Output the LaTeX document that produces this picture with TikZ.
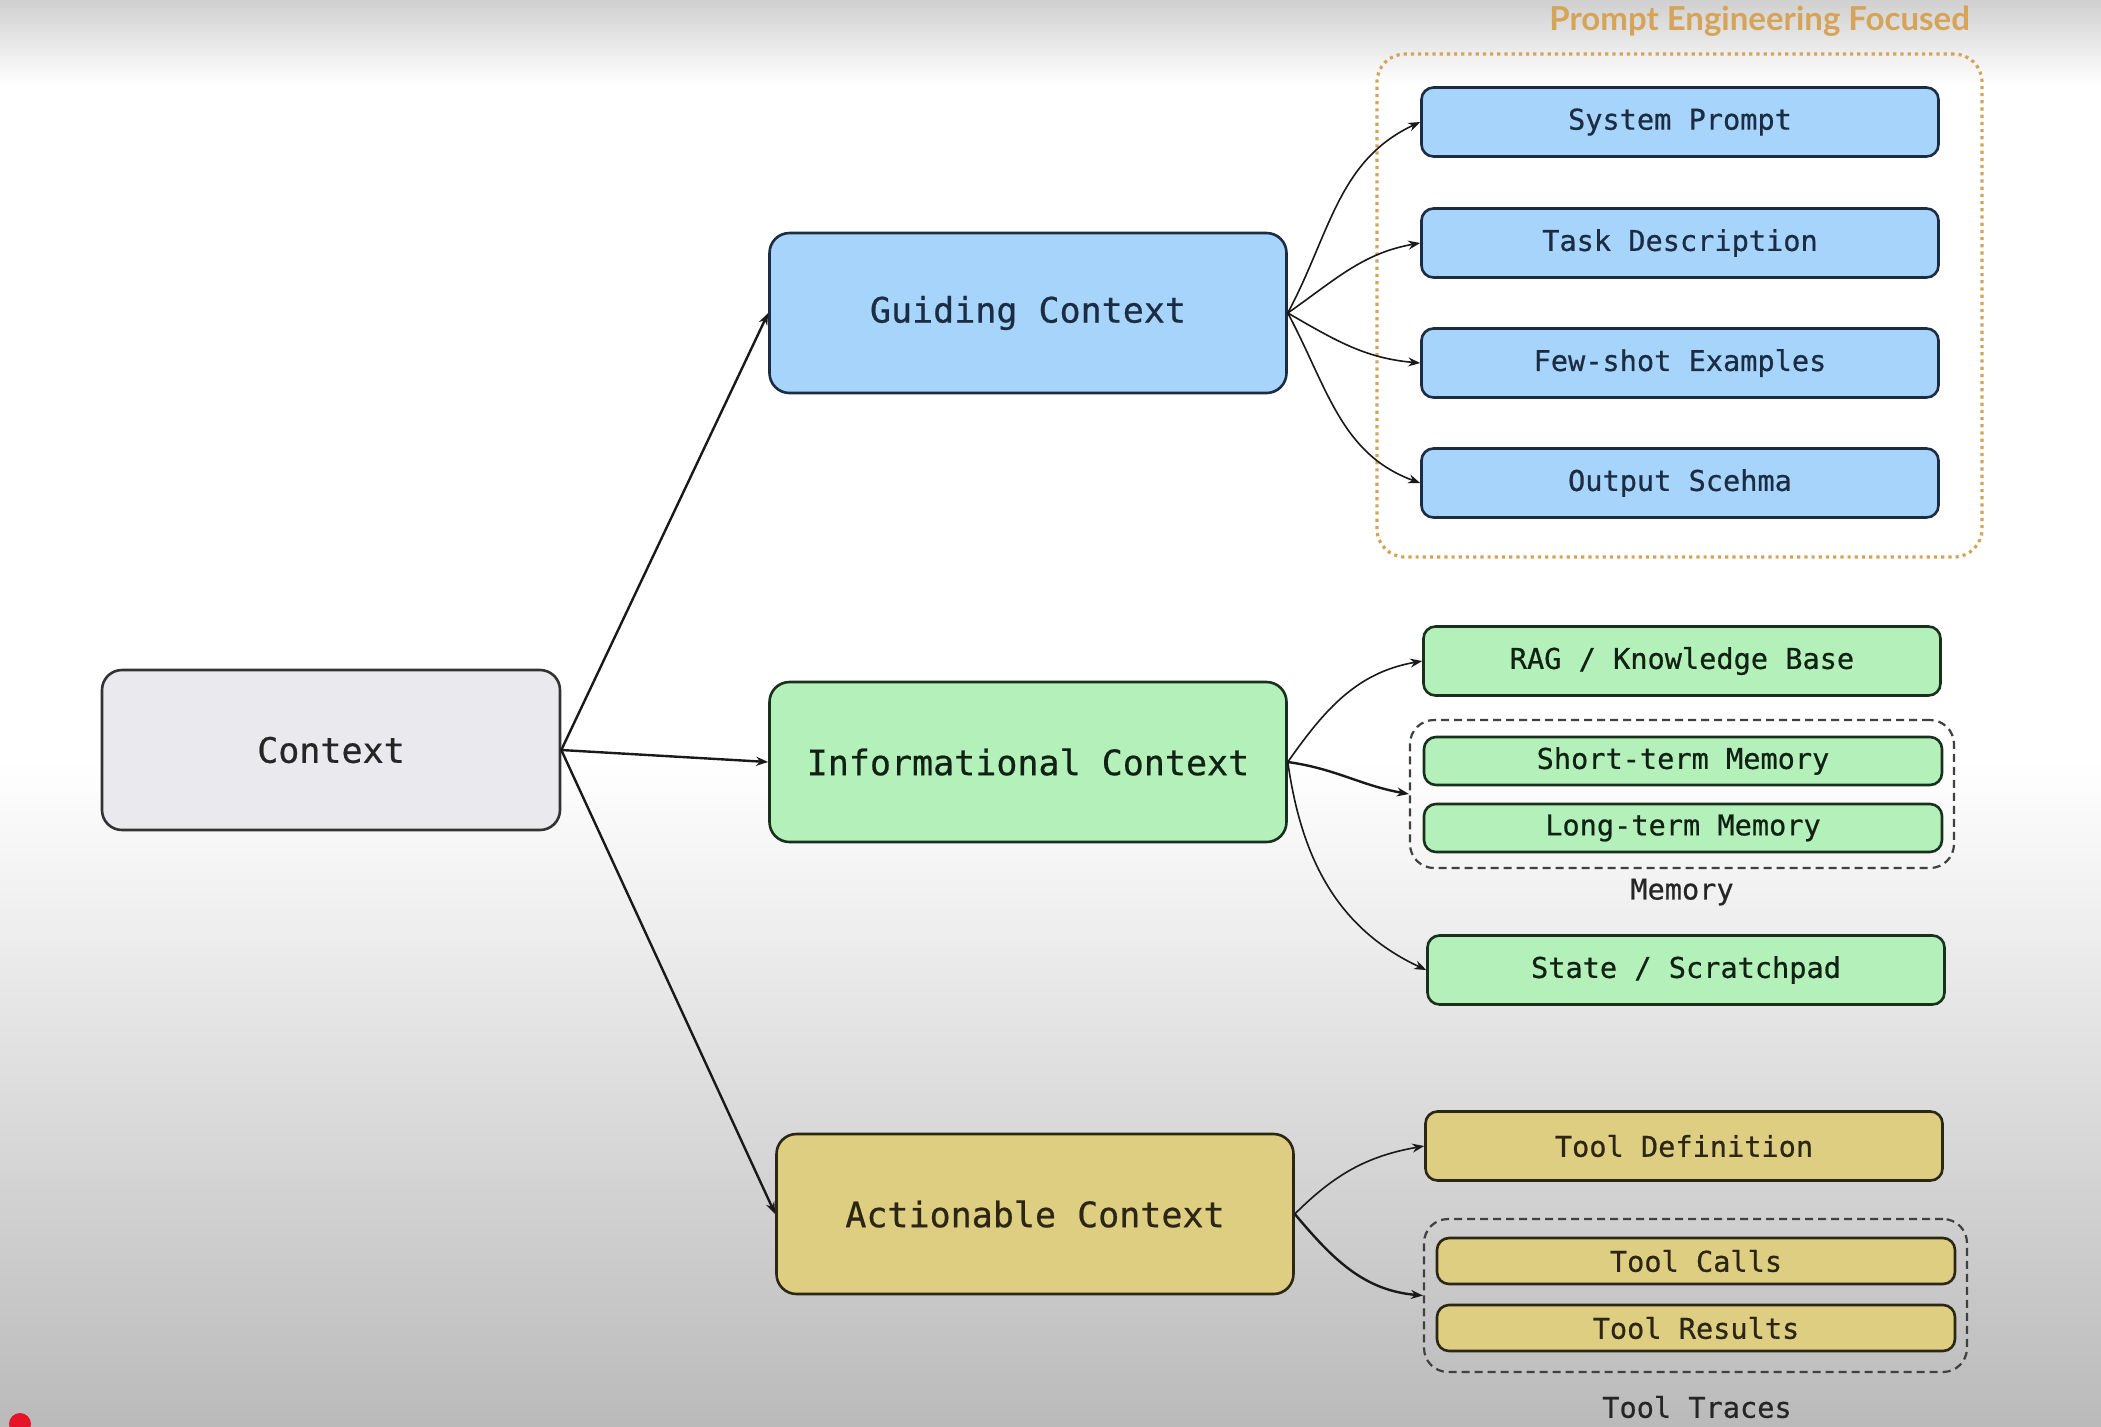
\documentclass[tikz,border=0pt]{standalone}
\usepackage{fontspec}
\setmonofont[FakeBold=0.6]{DejaVu Sans Mono}
\newfontfamily\handfont{Lato}
\usetikzlibrary{arrows.meta}
\definecolor{bgtop}{RGB}{208,208,208}
\definecolor{bgbot}{RGB}{186,186,186}
\definecolor{ctxfill}{RGB}{233,233,238}
\definecolor{bluefill}{RGB}{166,212,250}
\definecolor{greenfill}{RGB}{180,240,186}
\definecolor{yelfill}{RGB}{222,206,130}
\definecolor{blueline}{RGB}{28,44,66}
\definecolor{greenline}{RGB}{24,48,28}
\definecolor{yelline}{RGB}{44,38,20}
\definecolor{orangec}{RGB}{214,164,88}
\definecolor{reddot}{RGB}{230,20,40}
\tikzset{
  basebox/.style={draw, rounded corners=10pt, line width=1.3pt, inner sep=0pt, font=\ttfamily},
  mainbox/.style={basebox, minimum width=258.5pt, minimum height=80pt, font=\ttfamily\fontsize{17.5}{20}\selectfont},
  subbox/.style={basebox, rounded corners=6pt, minimum width=258.5pt, minimum height=34.5pt, font=\ttfamily\fontsize{14.3}{17}\selectfont},
  thinbox/.style={subbox, minimum height=24pt},
  bluebox/.style={fill=bluefill, draw=blueline, text=blueline},
  greenbox/.style={fill=greenfill, draw=greenline, text=greenline!70!black},
  yelbox/.style={fill=yelfill, draw=yelline, text=yelline},
  groupbox/.style={draw=black!75, dashed, dash pattern=on 4pt off 2.5pt, line width=1.1pt, rounded corners=12pt, inner sep=0pt},
  grouplabel/.style={font=\ttfamily\fontsize{14.3}{17}\selectfont, text=black!85},
  mainarrow/.style={line width=1.2pt, black!90, -{Stealth[length=6pt,width=4.5pt]}},
  subarrow/.style={line width=0.8pt, black!90, -{Stealth[length=6pt,width=4.5pt]}},
}
\begin{document}
\begin{tikzpicture}[x=0.5pt,y=-0.5pt]
% background
\useasboundingbox (0,0) rectangle (2101,1426);
\fill[white] (0,0) rectangle (2101,1426);
\shade[top color=bgtop, bottom color=white] (0,0) rectangle (2101,85);
\shade[top color=white, bottom color=bgbot] (0,760) rectangle (2101,1426);
\fill[reddot] (20,1424) circle (11);

% containers
\node[draw=orangec, dotted, line width=1.6pt, rounded corners=14pt, minimum width=302.5pt, minimum height=251.5pt, inner sep=0pt] (pef) at (1679.5,305.5) {};
\node[font=\handfont\fontsize{16.5}{19}\selectfont\bfseries, text=orangec, anchor=east] (peflabel) at (1977,21) {Prompt Engineering Focused};

% main nodes
\node[mainbox, fill=ctxfill, draw=black!80, text=black!85, minimum width=229pt] (ctx) at (331,750) {Context};
\node[mainbox, bluebox] (guid) at (1028,313) {Guiding Context};
\node[mainbox, greenbox] (info) at (1028,762) {Informational Context};
\node[mainbox, yelbox] (act) at (1035,1214) {Actionable Context};

% guiding subs
\node[subbox, bluebox] (sys) at (1680,122) {System Prompt};
\node[subbox, bluebox] (task) at (1680,243) {Task Description};
\node[subbox, bluebox] (few) at (1680,363) {Few-shot Examples};
\node[subbox, bluebox] (out) at (1680,483) {Output Scehma};

% informational subs
\node[subbox, greenbox] (rag) at (1682,661) {RAG / Knowledge Base};
\node[groupbox, minimum width=272pt, minimum height=74pt] (mem) at (1682,794) {};
\node[thinbox, greenbox, minimum width=259pt] (stm) at (1683,761) {Short-term Memory};
\node[thinbox, greenbox, minimum width=259pt] (ltm) at (1683,828) {Long-term Memory};
\node[grouplabel] (memlabel) at (1682,892) {Memory};
\node[subbox, greenbox] (state) at (1686,970) {State / Scratchpad};

% actionable subs
\node[subbox, yelbox] (tdef) at (1684,1146) {Tool Definition};
\node[groupbox, minimum width=271.5pt, minimum height=76.5pt] (traces) at (1695.5,1295.5) {};
\node[thinbox, yelbox, minimum width=259pt, minimum height=23pt] (tcall) at (1696,1261) {Tool Calls};
\node[thinbox, yelbox, minimum width=259pt, minimum height=23pt] (tres) at (1696,1328) {Tool Results};
\node[grouplabel] (trlabel) at (1697,1407) {Tool Traces};

% main connectors
\draw[mainarrow] (ctx.east) -- (guid.west);
\draw[mainarrow] (ctx.east) -- (info.west);
\draw[mainarrow] (ctx.east) -- (act.west);

% guiding connectors
\draw[subarrow] (guid.east) to[out=62,in=205] (sys.west);
\draw[subarrow] (guid.east) to[out=35,in=190] (task.west);
\draw[subarrow] (guid.east) to[out=-30,in=175] (few.west);
\draw[subarrow] (guid.east) to[out=-62,in=160] (out.west);

% informational connectors
\draw[subarrow] (info.east) to[out=55,in=190] (rag.west);
\draw[mainarrow] (info.east) to[out=-8,in=170] (mem.west);
\draw[subarrow] (info.east) to[out=-82,in=155] (state.west);

% actionable connectors
\draw[subarrow] (act.east) to[out=45,in=190] (tdef.west);
\draw[mainarrow] (act.east) to[out=-50,in=175] (traces.west);
\end{tikzpicture}
\end{document}
